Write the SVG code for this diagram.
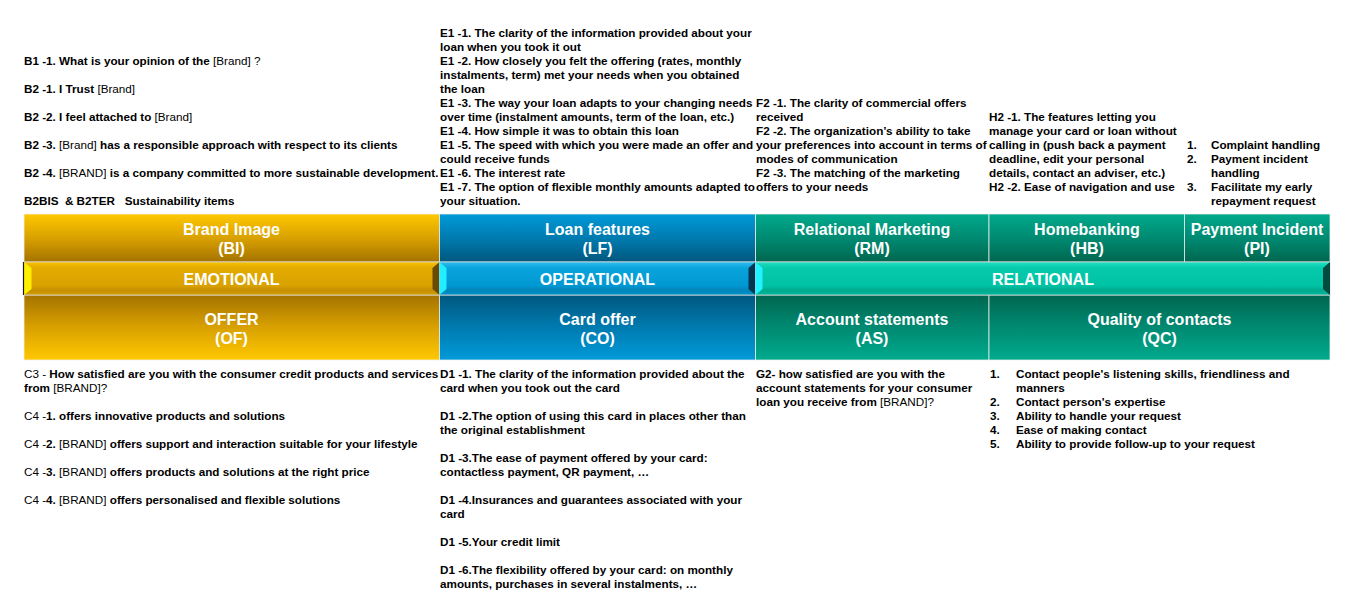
<svg xmlns="http://www.w3.org/2000/svg" width="1350" height="609" viewBox="0 0 1350 609">
<defs>
<linearGradient id="gTopGold" x1="0" y1="0" x2="0" y2="1"><stop offset="0" stop-color="#FFC800"/><stop offset="0.5" stop-color="#D9A100"/><stop offset="1" stop-color="#A47300"/></linearGradient>
<linearGradient id="gBotGold" x1="0" y1="0" x2="0" y2="1"><stop offset="0" stop-color="#A47300"/><stop offset="0.5" stop-color="#D9A100"/><stop offset="1" stop-color="#FFC800"/></linearGradient>
<linearGradient id="gTopBlue" x1="0" y1="0" x2="0" y2="1"><stop offset="0" stop-color="#009AD8"/><stop offset="0.5" stop-color="#007BB0"/><stop offset="1" stop-color="#00577E"/></linearGradient>
<linearGradient id="gBotBlue" x1="0" y1="0" x2="0" y2="1"><stop offset="0" stop-color="#00577E"/><stop offset="0.5" stop-color="#007BB0"/><stop offset="1" stop-color="#009AD8"/></linearGradient>
<linearGradient id="gTopTeal" x1="0" y1="0" x2="0" y2="1"><stop offset="0" stop-color="#00AA8C"/><stop offset="0.5" stop-color="#008A72"/><stop offset="1" stop-color="#00664F"/></linearGradient>
<linearGradient id="gBotTeal" x1="0" y1="0" x2="0" y2="1"><stop offset="0" stop-color="#00664F"/><stop offset="0.5" stop-color="#008A72"/><stop offset="1" stop-color="#00AA8C"/></linearGradient>
<linearGradient id="gBandGold" x1="0" y1="0" x2="0" y2="1"><stop offset="0" stop-color="#F8C200"/><stop offset="0.18" stop-color="#E3AA00"/><stop offset="0.72" stop-color="#DAA200"/><stop offset="0.85" stop-color="#C48E00"/><stop offset="1" stop-color="#D49D00"/></linearGradient>
<linearGradient id="gBandBlue" x1="0" y1="0" x2="0" y2="1"><stop offset="0" stop-color="#2EBDF0"/><stop offset="0.18" stop-color="#0AA4DC"/><stop offset="0.72" stop-color="#0098D2"/><stop offset="0.85" stop-color="#0084BA"/><stop offset="1" stop-color="#0092C8"/></linearGradient>
<linearGradient id="gBandTeal" x1="0" y1="0" x2="0" y2="1"><stop offset="0" stop-color="#22E0C4"/><stop offset="0.18" stop-color="#05CAAB"/><stop offset="0.72" stop-color="#00C2A4"/><stop offset="0.85" stop-color="#00AA8E"/><stop offset="1" stop-color="#00B89A"/></linearGradient>
<style>
.box{stroke:#F2F2F2;stroke-opacity:0.75;stroke-width:1}
.band{stroke:#D8D8D8;stroke-opacity:0.8;stroke-width:1}
.hd{font-family:"Liberation Sans",Arial,sans-serif;font-weight:bold;font-size:16px;fill:#FFFFFF;text-anchor:middle}
.q{font-family:"Liberation Sans",Arial,sans-serif;font-weight:bold;font-size:11.7px;fill:#000000}
.r{font-weight:normal}
.pre{white-space:pre}
</style>
</defs>
<rect x="0" y="0" width="1350" height="609" fill="#FFFFFF"/>

<!-- Top row nodes -->
<g id="BI">
<rect class="box" x="24" y="214" width="415.5" height="48" fill="url(#gTopGold)"/>
<text class="hd" x="231.5" y="235">Brand Image</text>
<text class="hd" x="231.5" y="254">(BI)</text>
</g>
<g id="LF">
<rect class="box" x="439.5" y="214" width="316" height="48" fill="url(#gTopBlue)"/>
<text class="hd" x="597.5" y="235">Loan features</text>
<text class="hd" x="597.5" y="254">(LF)</text>
</g>
<g id="RM">
<rect class="box" x="755.5" y="214" width="233.5" height="48" fill="url(#gTopTeal)"/>
<text class="hd" x="872" y="235">Relational Marketing</text>
<text class="hd" x="872" y="254">(RM)</text>
</g>
<g id="HB">
<rect class="box" x="989" y="214" width="195.5" height="48" fill="url(#gTopTeal)"/>
<text class="hd" x="1087" y="235">Homebanking</text>
<text class="hd" x="1087" y="254">(HB)</text>
</g>
<g id="PI">
<rect class="box" x="1184.5" y="214" width="145.5" height="48" fill="url(#gTopTeal)"/>
<text class="hd" x="1257" y="235">Payment Incident</text>
<text class="hd" x="1257" y="254">(PI)</text>
</g>

<!-- Bottom row nodes -->
<g id="OF">
<rect class="box" x="24" y="295" width="415.5" height="65" fill="url(#gBotGold)"/>
<text class="hd" x="231.5" y="325">OFFER</text>
<text class="hd" x="231.5" y="344">(OF)</text>
</g>
<g id="CO">
<rect class="box" x="439.5" y="295" width="316" height="65" fill="url(#gBotBlue)"/>
<text class="hd" x="597.5" y="325">Card offer</text>
<text class="hd" x="597.5" y="344">(CO)</text>
</g>
<g id="AS">
<rect class="box" x="755.5" y="295" width="233.5" height="65" fill="url(#gBotTeal)"/>
<text class="hd" x="872" y="325">Account statements</text>
<text class="hd" x="872" y="344">(AS)</text>
</g>
<g id="QC">
<rect class="box" x="989" y="295" width="341" height="65" fill="url(#gBotTeal)"/>
<text class="hd" x="1159.5" y="325">Quality of contacts</text>
<text class="hd" x="1159.5" y="344">(QC)</text>
</g>

<!-- Bands -->
<g id="EMOTIONAL">
<rect class="band" x="24" y="262" width="415.5" height="33" fill="url(#gBandGold)"/>
<polygon points="24,262 31.5,268 31.5,289 24,295" fill="#FFF000"/>
<polygon points="439.5,262 432.5,268 432.5,289 439.5,295" fill="#6A4A00"/>
<line x1="23.5" y1="262" x2="23.5" y2="295" stroke="#1A1A1A" stroke-width="1.2"/>
<text class="hd" x="231.5" y="285">EMOTIONAL</text>
</g>
<g id="OPERATIONAL">
<rect class="band" x="439.5" y="262" width="316" height="33" fill="url(#gBandBlue)"/>
<polygon points="439.5,262 446.5,268 446.5,289 439.5,295" fill="#22EEFF"/>
<polygon points="755.5,262 748.5,268 748.5,289 755.5,295" fill="#05354F"/>
<text class="hd" x="597.5" y="285">OPERATIONAL</text>
</g>
<g id="RELATIONAL">
<rect class="band" x="755.5" y="262" width="574.5" height="33" fill="url(#gBandTeal)"/>
<polygon points="755.5,262 762.5,268 762.5,289 755.5,295" fill="#22F2FF"/>
<polygon points="1330,262 1323,268 1323,289 1330,295" fill="#004A40"/>
<text class="hd" x="1043" y="285">RELATIONAL</text>
</g>

<g id="connectors"></g>

<!-- Question texts, top -->
<g id="BI-items" class="q">
<text x="24" y="65">B1 -1. What is your opinion of the <tspan class="r">[Brand] ?</tspan></text>
<text x="24" y="93">B2 -1. I Trust <tspan class="r">[Brand]</tspan></text>
<text x="24" y="121">B2 -2. I feel attached to <tspan class="r">[Brand]</tspan></text>
<text x="24" y="149">B2 -3. <tspan class="r">[Brand]</tspan> has a responsible approach with respect to its clients</text>
<text x="24" y="177">B2 -4. <tspan class="r">[BRAND]</tspan> is a company committed to more sustainable development.</text>
<text x="24" y="205" class="pre">B2BIS  &amp; B2TER   Sustainability items</text>
</g>
<g id="LF-items" class="q">
<text x="440" y="37">E1 -1. The clarity of the information provided about your</text>
<text x="440" y="51">loan when you took it out</text>
<text x="440" y="65">E1 -2. How closely you felt the offering (rates, monthly</text>
<text x="440" y="79">instalments, term) met your needs when you obtained</text>
<text x="440" y="93">the loan</text>
<text x="440" y="107">E1 -3. The way your loan adapts to your changing needs</text>
<text x="440" y="121">over time (instalment amounts, term of the loan, etc.)</text>
<text x="440" y="135">E1 -4. How simple it was to obtain this loan</text>
<text x="440" y="149">E1 -5. The speed with which you were made an offer and</text>
<text x="440" y="163">could receive funds</text>
<text x="440" y="177">E1 -6. The interest rate</text>
<text x="440" y="191">E1 -7. The option of flexible monthly amounts adapted to</text>
<text x="440" y="205">your situation.</text>
</g>
<g id="RM-items" class="q">
<text x="756" y="107">F2 -1. The clarity of commercial offers</text>
<text x="756" y="121">received</text>
<text x="756" y="135">F2 -2. The organization’s ability to take</text>
<text x="756" y="149">your preferences into account in terms of</text>
<text x="756" y="163">modes of communication</text>
<text x="756" y="177">F2 -3. The matching of the marketing</text>
<text x="756" y="191">offers to your needs</text>
</g>
<g id="HB-items" class="q">
<text x="989" y="121">H2 -1. The features letting you</text>
<text x="989" y="135">manage your card or loan without</text>
<text x="989" y="149">calling in (push back a payment</text>
<text x="989" y="163">deadline, edit your personal</text>
<text x="989" y="177">details, contact an adviser, etc.)</text>
<text x="989" y="191">H2 -2. Ease of navigation and use</text>
</g>
<g id="PI-items" class="q">
<text x="1187" y="149">1.</text><text x="1211" y="149">Complaint handling</text>
<text x="1187" y="163">2.</text><text x="1211" y="163">Payment incident</text>
<text x="1211" y="177">handling</text>
<text x="1187" y="191">3.</text><text x="1211" y="191">Facilitate my early</text>
<text x="1211" y="205">repayment request</text>
</g>

<!-- Question texts, bottom -->
<g id="OF-items" class="q">
<text x="24" y="378"><tspan class="r">C3 - </tspan>How satisfied are you with the consumer credit products and services</text>
<text x="24" y="392">from <tspan class="r">[BRAND]?</tspan></text>
<text x="24" y="420"><tspan class="r">C4 -</tspan>1. offers innovative products and solutions</text>
<text x="24" y="448"><tspan class="r">C4 -</tspan>2. <tspan class="r">[BRAND]</tspan> offers support and interaction suitable for your lifestyle</text>
<text x="24" y="476"><tspan class="r">C4 -</tspan>3. <tspan class="r">[BRAND]</tspan> offers products and solutions at the right price</text>
<text x="24" y="504"><tspan class="r">C4 -</tspan>4. <tspan class="r">[BRAND]</tspan> offers personalised and flexible solutions</text>
</g>
<g id="CO-items" class="q">
<text x="440" y="378">D1 -1. The clarity of the information provided about the</text>
<text x="440" y="392">card when you took out the card</text>
<text x="440" y="420">D1 -2.The option of using this card in places other than</text>
<text x="440" y="434">the original establishment</text>
<text x="440" y="462">D1 -3.The ease of payment offered by your card:</text>
<text x="440" y="476">contactless payment, QR payment, …</text>
<text x="440" y="504">D1 -4.Insurances and guarantees associated with your</text>
<text x="440" y="518">card</text>
<text x="440" y="546">D1 -5.Your credit limit</text>
<text x="440" y="574">D1 -6.The flexibility offered by your card: on monthly</text>
<text x="440" y="588">amounts, purchases in several instalments, …</text>
</g>
<g id="AS-items" class="q">
<text x="756" y="378">G2- how satisfied are you with the</text>
<text x="756" y="392">account statements for your consumer</text>
<text x="756" y="406">loan you receive from <tspan class="r">[BRAND]?</tspan></text>
</g>
<g id="QC-items" class="q">
<text x="990" y="378">1.</text><text x="1016" y="378">Contact people's listening skills, friendliness and</text>
<text x="1016" y="392">manners</text>
<text x="990" y="406">2.</text><text x="1016" y="406">Contact person's expertise</text>
<text x="990" y="420">3.</text><text x="1016" y="420">Ability to handle your request</text>
<text x="990" y="434">4.</text><text x="1016" y="434">Ease of making contact</text>
<text x="990" y="448">5.</text><text x="1016" y="448">Ability to provide follow-up to your request</text>
</g>
</svg>
